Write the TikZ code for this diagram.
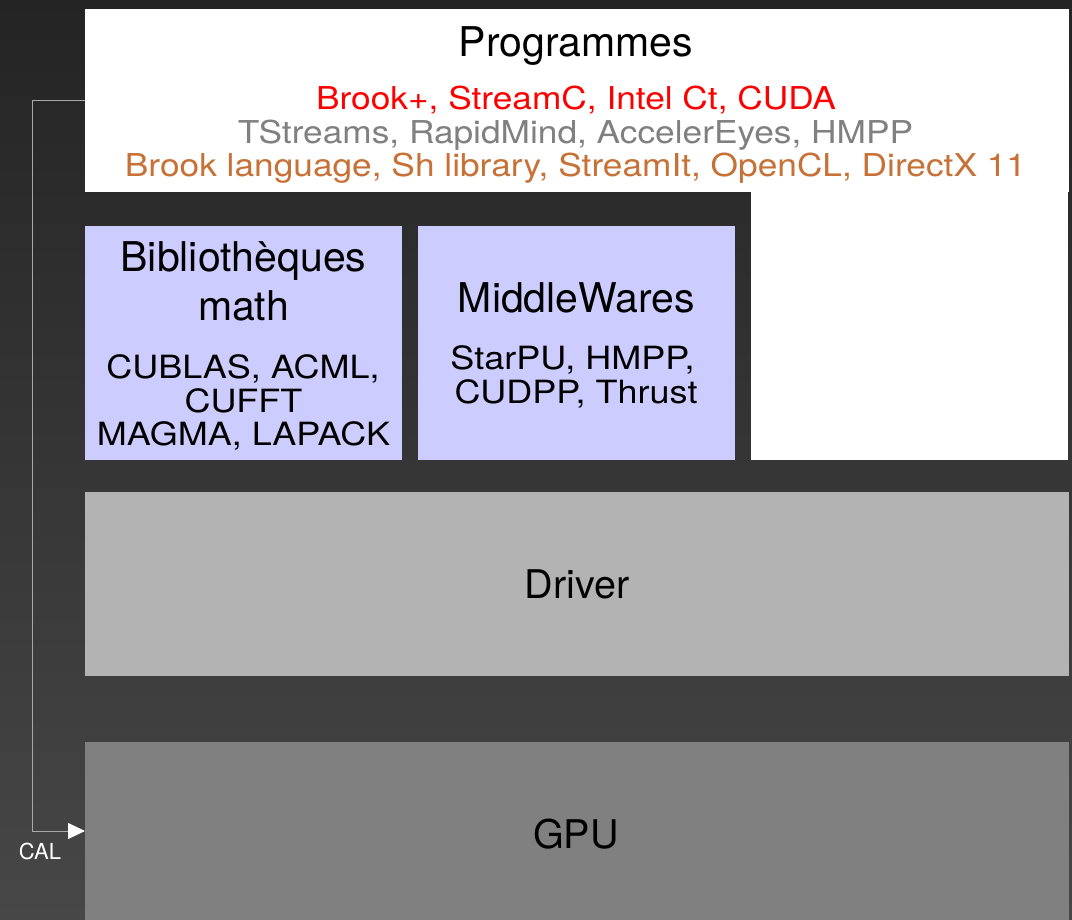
\documentclass[tikz,border=0pt]{standalone}
\usepackage{fontspec}
\setmainfont{TeX Gyre Heros}
\newfontfamily\widefont{TeX Gyre Heros}[FakeStretch=1.12]
\newfontfamily\subfont{TeX Gyre Heros}[FakeStretch=1.125]
\usetikzlibrary{arrows.meta}
\definecolor{bgtop}{HTML}{242424}
\definecolor{bgbot}{HTML}{474747}
\definecolor{lav}{HTML}{CCCCFF}
\definecolor{drvc}{HTML}{B3B3B3}
\definecolor{gpuc}{HTML}{808080}
\definecolor{redc}{HTML}{FF0000}
\definecolor{grayc}{HTML}{808080}
\definecolor{orc}{HTML}{C87137}
\definecolor{linec}{HTML}{A8A8A8}
\tikzset{
  blk/.style={anchor=north west, inner sep=0pt, outer sep=0pt, draw=none},
  ttl/.style={anchor=base, inner sep=0pt, font=\fontsize{39.5}{40}\selectfont},
  bigttl/.style={anchor=base, inner sep=0pt, font=\fontsize{41}{42}\selectfont},
  sub/.style={anchor=base, inner sep=0pt, font=\subfont\fontsize{32}{33}\selectfont},
  top/.style={anchor=base, inner sep=0pt, font=\widefont\fontsize{31.5}{33}\selectfont},
  calline/.style={draw=linec, line width=1pt, -{Triangle[length=17pt,width=16pt,color=white]}},
}
\begin{document}
\begin{tikzpicture}[x=1pt,y=-1pt]
\useasboundingbox (0,0) rectangle (1072,920);
\shade[top color=bgtop, bottom color=bgbot] (0,0) rectangle (1072,920);
% blocks
\node[blk, fill=white, minimum width=984pt, minimum height=183pt] (prog) at (85,9) {};
\node[blk, fill=white, minimum width=317pt, minimum height=270pt] (progext) at (751,190) {};
\node[blk, fill=lav, minimum width=317pt, minimum height=234pt] (bib) at (85,226) {};
\node[blk, fill=lav, minimum width=317pt, minimum height=234pt] (mid) at (418,226) {};
\node[blk, fill=drvc, minimum width=984pt, minimum height=184pt] (drv) at (85,492) {};
\node[blk, fill=gpuc, minimum width=984pt, minimum height=178pt] (gpu) at (85,742) {};
% texts
\node[bigttl] (tprog) at (576,57) {Programmes};
\node[top, text=redc] (l1) at (576,110) {Brook+, StreamC, Intel Ct, CUDA};
\node[top, text=grayc] (l2) at (575.5,143.5) {TStreams, RapidMind, AccelerEyes, HMPP};
\node[top, text=orc] (l3) at (575.5,177) {Brook language, Sh library, StreamIt, OpenCL, DirectX 11};
\node[bigttl] (tbib1) at (243.5,272) {Bibliothèques};
\node[bigttl] (tbib2) at (243.5,320) {math};
\node[sub] (sb1) at (243,378) {CUBLAS, ACML,};
\node[sub] (sb2) at (243.5,412) {CUFFT};
\node[sub] (sb3) at (243.5,445) {MAGMA, LAPACK};
\node[bigttl] (tmid) at (576.5,313) {MiddleWares};
\node[sub] (sm1) at (572.5,370) {StarPU, HMPP,};
\node[sub] (sm2) at (576,403) {CUDPP, Thrust};
\node[ttl] (tdrv) at (577,598) {Driver};
\node[ttl] (tgpu) at (576,848) {GPU};
% connector
\coordinate (calx) at (32,0);
\draw[calline] (prog.west) -- (prog.west -| calx) |- (gpu.west);
\node[anchor=base, inner sep=0pt, text=white, font=\fontsize{22}{24}\selectfont] (cal) at (40,859) {CAL};
\end{tikzpicture}
\end{document}
